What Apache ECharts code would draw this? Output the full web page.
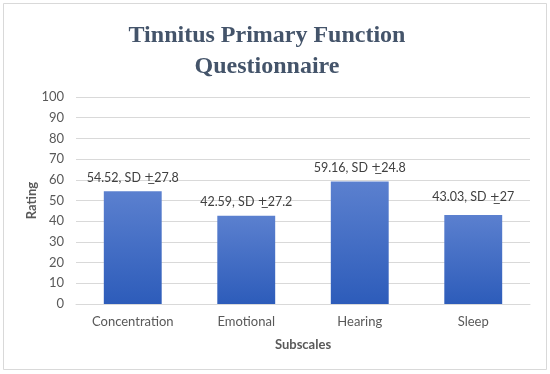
<!DOCTYPE html>
<html><head><meta charset="utf-8">
<script src="https://cdn.jsdelivr.net/npm/echarts@6/dist/echarts.min.js"></script>
<style>html,body{margin:0;padding:0;background:#fff}#c{width:550px;height:374px}</style>
</head><body><div id="c"></div>
<script>
const categories = ['Concentration', 'Emotional', 'Hearing', 'Sleep'];
const ratings = [54.52, 42.59, 59.16, 43.03];
const sds = ['27.8', '27.2', '24.8', '27'];
const yTicks = [0, 10, 20, 30, 40, 50, 60, 70, 80, 90, 100];

const chart = echarts.init(document.getElementById('c'));
const labelFont = 'Lato, "Open Sans", sans-serif';
chart.setOption({
  animation: false,
  backgroundColor: '#fff',
  graphic: [{
    type: 'rect', shape: { x: 3.5, y: 3.5, width: 543, height: 366 },
    style: { fill: 'none', stroke: '#d9d9d9', lineWidth: 1 }, silent: true
  }],
  title: {
    text: 'Tinnitus Primary Function\nQuestionnaire',
    left: 262, top: 15, textAlign: 'center',
    textStyle: { fontFamily: '"Liberation Serif", serif', fontWeight: 'bold', fontSize: 24, lineHeight: 31, color: '#44546a' }
  },
  grid: { left: 76, right: 20, top: 97, bottom: 70 },
  xAxis: {
    type: 'category', data: categories,
    name: 'Subscales', nameLocation: 'middle', nameGap: 34, nameMoveOverlap: false,
    nameTextStyle: { fontFamily: labelFont, fontWeight: 'bold', fontSize: 13, color: '#595959' },
    axisLine: { lineStyle: { color: '#d9d9d9' } },
    axisTick: { show: false },
    axisLabel: { fontFamily: labelFont, fontSize: 13, color: '#595959', margin: 11 }
  },
  yAxis: {
    type: 'value', min: yTicks[0], max: yTicks[yTicks.length - 1], interval: 10,
    name: 'Rating', nameLocation: 'middle', nameGap: 38, nameMoveOverlap: false,
    nameTextStyle: { fontFamily: labelFont, fontWeight: 'bold', fontSize: 13, color: '#595959' },
    axisLine: { show: false }, axisTick: { show: false },
    axisLabel: { fontFamily: labelFont, fontSize: 13, color: '#595959', margin: 12 },
    splitLine: { lineStyle: { color: '#d9d9d9' } }
  },
  series: [{
    type: 'bar', barWidth: '51%',
    data: ratings.map((v, i) => ({ value: v, label: i === 3 ? { offset: [0, -4] } : undefined })),
    itemStyle: {
      color: new echarts.graphic.LinearGradient(0, 0, 0, 1, [
        { offset: 0, color: '#5b80cf' }, { offset: 1, color: '#2d5cba' }
      ])
    },
    label: {
      show: true, position: 'top', distance: 7,
      fontFamily: labelFont, fontSize: 12.5, color: '#404040',
      formatter: p => ratings[p.dataIndex].toFixed(2) + ', SD {pm|+\u0332}' + sds[p.dataIndex],
      rich: { pm: { fontFamily: '"DejaVu Sans", sans-serif', fontSize: 12, color: '#404040' } }
    }
  }]
});
</script></body></html>
